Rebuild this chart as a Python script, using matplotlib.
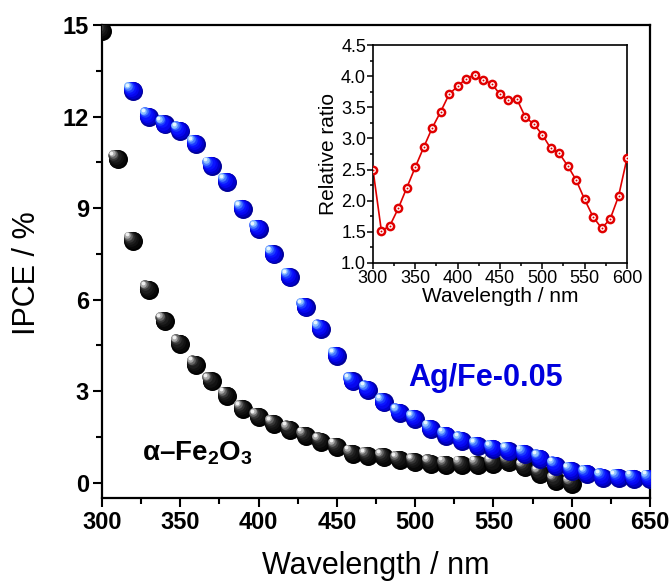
import numpy as np
import matplotlib
matplotlib.use('Agg')
import matplotlib.pyplot as plt
from matplotlib import transforms
from matplotlib.ticker import MultipleLocator

plt.rcParams['font.family'] = ['Liberation Sans', 'DejaVu Sans']
plt.rcParams['mathtext.fontset'] = 'custom'
plt.rcParams['mathtext.rm'] = 'Liberation Sans:bold'
plt.rcParams['mathtext.bf'] = 'Liberation Sans:bold'
plt.rcParams['mathtext.default'] = 'bf'

# IPCE spectra (%)
wl_fe = np.arange(300, 601, 10)
ipce_fe = [14.8, 10.6, 7.93, 6.33, 5.29, 4.56, 3.87, 3.32, 2.85, 2.42, 2.16,
           1.93, 1.74, 1.54, 1.35, 1.18, 0.95, 0.88, 0.83, 0.75, 0.67, 0.63,
           0.59, 0.59, 0.59, 0.63, 0.67, 0.50, 0.30, 0.07, -0.03]
wl_ag = np.arange(320, 651, 10)
ipce_ag = [12.83, 12.0, 11.74, 11.54, 11.1, 10.39, 9.85, 8.97, 8.31, 7.48,
           6.73, 5.75, 5.05, 4.16, 3.32, 3.05, 2.63, 2.30, 2.08, 1.77, 1.54,
           1.38, 1.21, 1.10, 1.03, 0.95, 0.79, 0.56, 0.39, 0.29, 0.17, 0.16,
           0.13, 0.13]

# Ag/Fe-0.05 over alpha-Fe2O3 ratio
wl_ratio = np.arange(300, 601, 10)
ratio = [2.50, 1.51, 1.60, 1.88, 2.21, 2.54, 2.86, 3.17, 3.43, 3.71, 3.84,
         3.96, 4.02, 3.94, 3.88, 3.71, 3.62, 3.63, 3.34, 3.23, 3.06, 2.84,
         2.76, 2.56, 2.33, 2.02, 1.74, 1.56, 1.70, 2.07, 2.68]

BLUE_SHADES = ['#00009a', '#0000cc', '#0606ee', '#0a14ff', '#1c3cff',
               '#4a7cff', '#8cc0ff', '#e6f6ff']
BLACK_SHADES = ['#000000', '#080808', '#121212', '#1e1e1e', '#363636',
                '#666666', '#a8a8a8', '#f0f0f0']
SIZE_FRAC = [1.0, 0.9, 0.78, 0.66, 0.55, 0.45, 0.34, 0.2]
OFF_FRAC = [0.0, 0.04, 0.1, 0.16, 0.22, 0.27, 0.31, 0.33]


def draw_balls(ax, xs, ys, shades, diam_px=19, zorder=3):
    """Shaded sphere markers: stacked discs shifted toward the upper left."""
    fig = ax.figure
    for x, y in zip(xs, ys):
        for col, sf, of in zip(shades, SIZE_FRAC, OFF_FRAC):
            off = of * diam_px
            tr = transforms.offset_copy(ax.transData, fig=fig, x=-off, y=off,
                                        units='dots')
            ax.plot([x], [y], 'o', ms=diam_px * sf * 72 / fig.dpi, mfc=col,
                    mec='none', transform=tr, zorder=zorder)


fig = plt.figure(figsize=(6.72, 5.86), dpi=100)
ax = fig.add_axes([0.1518, 0.1502, 0.8155, 0.8071])

draw_balls(ax, wl_fe, ipce_fe, BLACK_SHADES, zorder=3)
draw_balls(ax, wl_ag, ipce_ag, BLUE_SHADES, zorder=4)

ax.set_xlim(300, 650)
ax.set_ylim(-0.5, 15)
ax.xaxis.set_major_locator(MultipleLocator(50))
ax.xaxis.set_minor_locator(MultipleLocator(25))
ax.yaxis.set_major_locator(MultipleLocator(3))
ax.yaxis.set_minor_locator(MultipleLocator(1.5))
ax.tick_params(which='both', direction='out', width=1.5, top=False, right=False)
ax.tick_params(which='major', length=6.5, labelsize=17, pad=3)
ax.tick_params(which='minor', length=4)
for lab in ax.get_xticklabels() + ax.get_yticklabels():
    lab.set_fontweight('bold')
for sp in ax.spines.values():
    sp.set_linewidth(1.6)
ax.set_xlabel('Wavelength / nm', fontsize=22, labelpad=12)
ax.set_ylabel('IPCE / %', fontsize=22)
ax.yaxis.set_label_coords(-0.11, 0.475)

ax.text(495.4, 3.18, 'Ag/Fe-0.05', color='#0000dd', fontsize=22,
        fontweight='bold', va='baseline', ha='left')
ax.text(325.3, 0.72, 'α–Fe$_2$O$_3$', color='black', fontsize=20,
        fontweight='bold', va='baseline', ha='left')

# inset: enhancement ratio
ax_in = fig.add_axes([0.555, 0.5512, 0.378, 0.372])
ax_in.plot(wl_ratio, ratio, '-', color='#e00000', lw=1.2, zorder=2)
ax_in.plot(wl_ratio, ratio, 'o', ms=7, mfc='#e00000', mec='none', zorder=3)
ax_in.plot(wl_ratio, ratio, 'o', ms=3.4, mfc='white', mec='none', zorder=4)
ax_in.plot(wl_ratio, ratio, 'o', ms=1.4, mfc='#e00000', mec='none', zorder=5)
ax_in.set_xlim(300, 600)
ax_in.set_ylim(1.0, 4.5)
ax_in.xaxis.set_major_locator(MultipleLocator(50))
ax_in.xaxis.set_minor_locator(MultipleLocator(25))
ax_in.yaxis.set_major_locator(MultipleLocator(0.5))
ax_in.yaxis.set_minor_locator(MultipleLocator(0.25))
ax_in.tick_params(which='both', direction='out', width=1.1, top=False, right=False)
ax_in.tick_params(which='major', length=4, labelsize=13, pad=1)
ax_in.tick_params(which='minor', length=2.5)
for sp in ax_in.spines.values():
    sp.set_linewidth(1.2)
ax_in.set_xlabel('Wavelength / nm', fontsize=15, labelpad=0)
ax_in.set_ylabel('Relative ratio', fontsize=15, labelpad=2)

fig.savefig('out.png', dpi=100)
